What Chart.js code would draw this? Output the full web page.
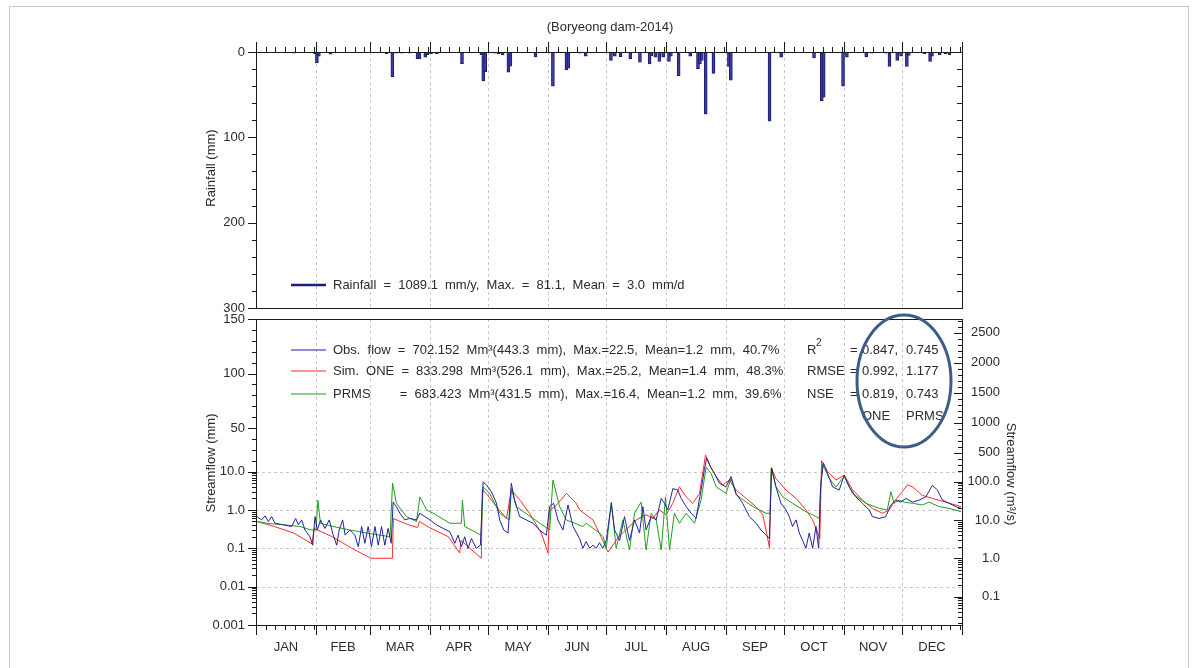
<!DOCTYPE html>
<html>
<head>
<meta charset="utf-8">
<title>Boryeong dam 2014</title>
<script src="https://cdn.jsdelivr.net/npm/chart.js@4.4.1/dist/chart.umd.min.js"></script>
<style>
  html, body { margin: 0; padding: 0; background: #fff; }
  #wrap { position: relative; width: 1197px; height: 668px; overflow: hidden; }
  #frame { position: absolute; left: 9px; top: 6px; width: 1178px; height: 700px; border: 1px solid #c8c8c8; }
  canvas { position: absolute; left: 0; top: 0; }
</style>
</head>
<body>
<div id="wrap">
  <div id="frame"></div>
  <canvas id="flow-chart" width="1197" height="668"></canvas>
  <canvas id="rain-chart" width="1197" height="668"></canvas>
</div>
<script>
// Boryeong dam 2014 : daily rainfall (top) and streamflow (bottom)

const monthNames = ['JAN', 'FEB', 'MAR', 'APR', 'MAY', 'JUN', 'JUL', 'AUG', 'SEP', 'OCT', 'NOV', 'DEC'];
const monthDays = [31, 28, 31, 30, 31, 30, 31, 31, 30, 31, 30, 31];

// Daily rainfall (day of year, mm)
const rainDays = [20, 31, 32, 33, 39, 68, 71, 73, 76, 80, 84, 85, 88, 89, 91, 94, 107, 117, 118, 119,
  124, 126, 128, 131, 132, 145, 154, 161, 162, 168, 171, 174, 184, 186, 189, 194, 199, 204, 205, 207,
  209, 211, 214, 215, 219, 225, 229, 230, 231, 233, 237, 242, 245, 246, 266, 272, 289, 293, 294, 304,
  306, 316, 319, 321, 326, 328, 332, 334, 337, 338, 346, 349, 350, 354, 357, 359];
const rainMm = [1.5, 2, 12.8, 5, 2.5, 2, 29, 1.5, 1.5, 1.5, 7.7, 8, 6, 3, 2, 2, 13.6, 3, 34, 23,
  1.5, 2, 3.5, 23.7, 16.7, 5.8, 40, 21, 19, 1.5, 5, 1, 10, 5, 5.5, 8, 12, 14, 4.5, 6,
  11, 6, 11, 5, 28, 5, 19.5, 14, 10, 73, 25, 1, 17, 33, 81.1, 6, 7, 57, 53, 40,
  6, 5.8, 1.5, 1, 1.5, 17, 10, 5, 17, 4, 2, 11, 5, 3, 2, 3];

// Streamflow in mm/day as [day of year, value]
const obsFlow = [[1, 0.67], [3.4, 0.55], [5.2, 0.7], [6.9, 0.5], [8.6, 0.67], [10.3, 0.45], [14.6, 0.41], [18.9, 0.37],
  [21, 0.6], [22.4, 0.41], [24.1, 0.55], [25.8, 0.3], [28.4, 0.2], [29.8, 0.12], [31, 0.67], [32.2, 0.3],
  [33.9, 0.55], [36.1, 0.33], [38.4, 0.55], [40.1, 0.25], [42.2, 0.12], [43.5, 0.3], [45.3, 0.55], [46.6, 0.22],
  [49, 0.3], [51.6, 0.22], [53.4, 0.11], [55.1, 0.37], [56.8, 0.135], [58.5, 0.37], [60.2, 0.11], [62, 0.37],
  [63.7, 0.12], [65.4, 0.37], [67.1, 0.12], [68.8, 0.33], [70.4, 0.135], [71.4, 1.6], [73.1, 1.22], [74.9, 0.82],
  [77.4, 0.55], [80, 0.6], [83.5, 0.55], [85.2, 0.82], [87.8, 0.67], [90.4, 0.55], [93.8, 0.41], [97.2, 0.33],
  [100.7, 0.27], [103.3, 0.135], [105, 0.22], [106.7, 0.11], [108.4, 0.2], [110.1, 0.1], [111.9, 0.18], [114.4, 0.1],
  [116.5, 0.12], [117.9, 5.4], [119.6, 4.5], [122.2, 3.0], [124.8, 1.5], [126.5, 0.55], [128.6, 0.3], [130.8, 0.25],
  [132.5, 4.95], [134.2, 1.8], [136.8, 0.67], [140.3, 0.55], [143.7, 0.45], [147.1, 0.3], [150.6, 0.22], [152.3, 1.22],
  [154.4, 1.49], [156.6, 0.55], [159.2, 0.3], [161.8, 1.35], [164.4, 0.37], [167.8, 0.18], [169.5, 0.1], [171.2, 0.15],
  [173, 0.1], [174.7, 0.12], [176.4, 0.1], [178.1, 0.14], [179.8, 0.1], [181.6, 0.16], [184.2, 1.49], [185.9, 0.3],
  [188.5, 0.16], [191, 0.67], [193.6, 0.16], [196.2, 0.55], [198.8, 0.25], [200.5, 1.22], [202.2, 0.3], [204.8, 0.67],
  [207.4, 0.55], [210, 2.0], [211.7, 1.49], [213.4, 1.0], [216, 3.6], [218.6, 3.3], [220.3, 2.0], [222.9, 1.22],
  [225.5, 0.82], [228, 0.6], [230.6, 3.3], [232.3, 11.8], [233.5, 22.5], [235.3, 14.9], [237.5, 9.0], [240.1, 4.95],
  [243.5, 4.0], [246.1, 7.4], [248.7, 2.7], [252.1, 1.49], [255.6, 0.67], [259, 0.45], [261.6, 0.3], [264.2, 0.22],
  [265.9, 0.18], [267.1, 13.4], [269.3, 4.0], [271.9, 1.49], [274.5, 1.0], [276.2, 0.67], [277.9, 0.37], [279.7, 0.55],
  [281.4, 0.25], [283.1, 0.16], [284.8, 0.1], [286.5, 0.25], [288.3, 0.1], [290, 0.37], [291.4, 0.1], [292.4, 4.0],
  [293.8, 18], [296, 9.0], [298.6, 4.0], [302, 3.3], [304.6, 8.1], [307.2, 4.0], [310.6, 2.2], [314.1, 1.49],
  [317.5, 1.0], [319.2, 0.67], [322.7, 0.6], [326.1, 0.67], [328.7, 1.35], [331.3, 1.8], [333.9, 1.6], [336.5, 2.0],
  [339.9, 1.6], [343.3, 1.8], [346.8, 2.2], [350.2, 4.4], [352.8, 3.3], [355.4, 1.8], [358.8, 1.49], [362.3, 1.22],
  [365, 1.1]];

const oneFlow = [[1, 0.5], [10, 0.37], [20, 0.25], [29.5, 0.13], [30.5, 0.33], [40, 0.2], [50, 0.1], [60, 0.055],
  [71, 0.055], [71.5, 0.6], [75, 0.5], [80, 0.4], [84, 0.35], [85, 0.5], [90, 0.35], [100, 0.2],
  [105.8, 0.075], [106.5, 0.16], [117, 0.055], [117.5, 3.5], [120, 2.5], [125, 1.2], [130, 0.6], [132.5, 3.3],
  [137, 1.8], [142, 0.8], [148, 0.25], [151.5, 0.075], [152.2, 1.0], [155, 1.2], [161, 2.7], [166, 1.5],
  [167.8, 1.0], [174.7, 0.55], [179.8, 0.16], [182.5, 0.08], [188, 0.2], [197, 0.55], [202.2, 0.75], [205.6, 0.6],
  [209, 1.0], [212.5, 0.75], [216, 1.49], [219.4, 4.0], [222.9, 2.2], [226.3, 1.49], [229.8, 2.7], [232.9, 25.2],
  [235.8, 13.4], [238.4, 7.4], [241.8, 4.5], [245.2, 6.0], [248.7, 3.3], [253.9, 2.0], [259, 1.22], [262.5, 0.75],
  [264.5, 0.25], [266, 0.1], [266.9, 13.4], [269.3, 6.6], [274.5, 3.3], [279.7, 2.0], [284.8, 1.0], [288.3, 0.55],
  [290.9, 0.25], [292, 0.18], [292.9, 20.0], [296, 10.2], [300.3, 6.0], [304.6, 8.1], [309, 3.3], [314.1, 1.8],
  [319.2, 1.1], [324.4, 0.82], [327.9, 1.0], [330.4, 1.6], [333.9, 2.7], [337.3, 4.5], [339.9, 4.0], [345, 2.4],
  [350.2, 2.0], [357.1, 1.6], [365, 1.22]];

const prmsFlow = [[1, 0.5], [6, 0.45], [14.6, 0.41], [23.2, 0.37], [29, 0.3], [31.5, 0.3], [32.5, 1.8], [33.8, 0.45],
  [40.4, 0.37], [49, 0.3], [57.7, 0.25], [69.8, 0.2], [71.1, 5.0], [73.1, 1.5], [78.3, 0.67], [83.5, 0.5],
  [85.2, 2.2], [88.7, 1.0], [92.1, 0.82], [100.7, 0.45], [106.7, 0.45], [107.2, 1.8], [108.4, 0.37], [116.9, 0.22],
  [117.9, 4.0], [121.3, 2.7], [126.5, 0.82], [131.6, 0.55], [132.5, 3.6], [135.1, 1.22], [143.7, 0.6], [152.3, 0.3],
  [154, 6.0], [157.5, 1.22], [160.9, 0.55], [169.5, 0.37], [171.2, 0.45], [178.1, 0.25], [180, 0.2], [181.6, 0.1],
  [184.2, 1.6], [186.7, 0.1], [190.2, 0.55], [193.6, 0.09], [196.2, 0.82], [199.6, 1.6], [202.2, 0.09], [204.8, 0.82],
  [207.4, 0.55], [210, 0.09], [212.2, 2.2], [214.3, 0.09], [216.8, 0.82], [219.4, 0.45], [222.9, 0.82], [227.2, 0.45],
  [230.6, 1.8], [233.2, 14], [235.8, 9.0], [238.4, 4.0], [243.5, 2.7], [246.1, 6.6], [248.7, 2.5], [253.9, 1.6],
  [259, 1.1], [264.2, 0.82], [266.2, 0.82], [266.9, 13.4], [269.3, 4.0], [272.8, 2.2], [277.9, 1.49], [284.8, 0.9],
  [288.3, 0.75], [291.7, 0.6], [292.4, 3.6], [293.4, 16.4], [296.9, 6.6], [300.3, 4.0], [304.6, 7.4], [308.9, 2.7],
  [315.8, 1.49], [322.7, 1.1], [326.9, 1.0], [328.7, 3.0], [330.4, 1.5], [333, 1.8], [335.6, 1.6], [339.9, 1.49],
  [345, 1.35], [348.5, 1.6], [353.7, 1.22], [358.8, 1.1], [365, 0.9]];

// Axis ticks
const rainTicks = [0, 100, 200, 300];
const flowTickValues = [0.001, 0.01, 0.1, 1, 10, 50, 100, 150];
const flowTickLabels = ['0.001', '0.01', '0.1', '1.0', '10.0', '50', '100', '150'];
const cmsTickValues = [0.1, 1, 10, 100, 500, 1000, 1500, 2000, 2500];
const cmsTickLabels = ['0.1', '1.0', '10.0', '100.0', '500', '1000', '1500', '2000', '2500'];
const MM_TO_CMS = 18.2;

// Legend and statistics text
const rainLegend = 'Rainfall = 1089.1 mm/y, Max. = 81.1, Mean = 3.0 mm/d';
const flowNames = ['Obs. flow', 'Sim. ONE', 'PRMS'];
const flowSummary = [
  '= 702.152 Mm\u00b3(443.3 mm), Max.=22.5, Mean=1.2 mm, 40.7%',
  '= 833.298 Mm\u00b3(526.1 mm), Max.=25.2, Mean=1.4 mm, 48.3%',
  '= 683.423 Mm\u00b3(431.5 mm), Max.=16.4, Mean=1.2 mm, 39.6%'
];
const statNames = ['R', 'RMSE', 'NSE'];
const statOne = ['0.847,', '0.992,', '0.819,'];
const statPrms = ['0.745', '1.177', '0.743'];

const FONT = '"Liberation Sans", Arial, sans-serif';
const TEXT = '#2b2b2b';
const AXIS = '#1a1a1a';
const PLOT_LEFT = 256, PLOT_RIGHT = 962;
const RAIN_TOP = 52, RAIN_BOTTOM = 308;
const FLOW_TOP = 319, FLOW_BOTTOM = 625;
const W = 1197, H = 668;

Chart.defaults.font.family = FONT;
Chart.defaults.font.size = 13;
Chart.defaults.color = TEXT;

// month edges and centres on a day-of-year axis (day n spans n-0.5 .. n+0.5)
const monthEdges = [0.5];
monthDays.forEach(n => monthEdges.push(monthEdges[monthEdges.length - 1] + n));
const monthMid = monthDays.map((n, i) => monthEdges[i] + n / 2);
const dayTicks = [];
monthDays.forEach((n, i) => {
    dayTicks.push([monthEdges[i], true]);
    for (let k = 5; k < n; k += 5) dayTicks.push([monthEdges[i] + k, false]);
});
dayTicks.push([monthEdges[12], true]);

// Log below 10 mm, linear above it (room for the legend)
const LIN_K = 1.09 / 38.35;
class HybridScale extends Chart.Scale {
    static id = 'hybrid';
    static defaults = {};
    determineDataLimits() {
        this.min = this.options.min;
        this.max = this.options.max;
    }
    buildTicks() {
        return this.options.tickValues.map(v => ({ value: v }));
    }
    getLabelForValue(v) {
        return String(v);
    }
    toU(v) {
        const mm = v / (this.options.factor || 1);
        return mm <= 10 ? Math.log10(mm) : 1 + (mm - 10) * LIN_K;
    }
    configure() {
        super.configure();
        this._u0 = this.toU(this.min);
        this._u1 = this.toU(this.max);
    }
    getPixelForValue(v) {
        return this.getPixelForDecimal((this.toU(v) - this._u0) / (this._u1 - this._u0));
    }
    getValueForPixel(p) {
        const u = this._u0 + this.getDecimalForPixel(p) * (this._u1 - this._u0);
        const mm = u <= 1 ? Math.pow(10, u) : 10 + (u - 1) / LIN_K;
        return mm * (this.options.factor || 1);
    }
    getPixelForTick(i) {
        return this.getPixelForValue(this.ticks[i].value);
    }
}
Chart.register(HybridScale);

function crisp(v) {
    return Math.round(v) + 0.5;
}

function drawMonthGrid(chart) {
    const { ctx, chartArea: a, scales: { x } } = chart;
    ctx.save();
    ctx.strokeStyle = '#c6c6c6';
    ctx.lineWidth = 1;
    ctx.setLineDash([3, 3]);
    ctx.beginPath();
    monthEdges.slice(1, -1).forEach(d => {
        const px = crisp(x.getPixelForValue(d));
        ctx.moveTo(px, a.top);
        ctx.lineTo(px, a.bottom);
    });
    ctx.stroke();
    ctx.restore();
}

function drawFrame(chart) {
    const { ctx, chartArea: a } = chart;
    ctx.save();
    ctx.strokeStyle = AXIS;
    ctx.lineWidth = 1;
    ctx.strokeRect(crisp(a.left), crisp(a.top), Math.round(a.right - a.left), Math.round(a.bottom - a.top));
    ctx.restore();
}

function drawDayTicks(chart, yEdge, dir) {
    const { ctx, scales: { x } } = chart;
    dayTicks.forEach(([d, major]) => {
        const px = crisp(x.getPixelForValue(d));
        ctx.moveTo(px, yEdge);
        ctx.lineTo(px, yEdge + dir * (major ? 10 : 5));
    });
}

function drawRotated(ctx, text, cx, cy, angle) {
    ctx.save();
    ctx.translate(cx, cy);
    ctx.rotate(angle);
    ctx.textAlign = 'center';
    ctx.textBaseline = 'middle';
    ctx.fillText(text, 0, 0);
    ctx.restore();
}

const rainDecor = {
    id: 'rainDecor',
    beforeDatasetsDraw(chart) {
        drawMonthGrid(chart);
    },
    afterDatasetsDraw(chart) {
        const { ctx, chartArea: a, scales: { y } } = chart;
        drawFrame(chart);
        ctx.save();
        ctx.strokeStyle = AXIS;
        ctx.lineWidth = 1;
        ctx.beginPath();
        drawDayTicks(chart, Math.round(a.top), -1);
        for (let v = 0; v <= 300; v += 20) {
            const py = crisp(y.getPixelForValue(v));
            const major = v % 100 === 0;
            ctx.moveTo(a.left, py);
            ctx.lineTo(a.left - (major ? 8 : 4), py);
            ctx.moveTo(a.right, py);
            ctx.lineTo(a.right - 5, py);
        }
        ctx.stroke();

        // title, axis title and legend
        ctx.fillStyle = TEXT;
        ctx.font = '13px ' + FONT;
        ctx.textAlign = 'center';
        ctx.textBaseline = 'middle';
        ctx.fillText('(Boryeong dam-2014)', (a.left + a.right) / 2 + 1, 27);
        drawRotated(ctx, 'Rainfall (mm)', 211, (a.top + a.bottom) / 2 - 12, -Math.PI / 2);

        const ly = a.bottom - 23;
        ctx.strokeStyle = '#1f1f7a';
        ctx.lineWidth = 2.5;
        ctx.beginPath();
        ctx.moveTo(a.left + 35, ly);
        ctx.lineTo(a.left + 70, ly);
        ctx.stroke();
        ctx.textAlign = 'left';
        ctx.wordSpacing = '3.5px';
        ctx.fillText(rainLegend, a.left + 77, ly);
        ctx.restore();
    }
};

const flowColors = ['#23239a', '#ff2b2b', '#1f9e1f'];

const flowDecor = {
    id: 'flowDecor',
    beforeDatasetsDraw(chart) {
        const { ctx, chartArea: a, scales: { y } } = chart;
        drawMonthGrid(chart);
        ctx.save();
        ctx.strokeStyle = '#c6c6c6';
        ctx.setLineDash([3, 3]);
        ctx.beginPath();
        [0.01, 0.1, 1, 10].forEach(v => {
            const py = crisp(y.getPixelForValue(v));
            ctx.moveTo(a.left, py);
            ctx.lineTo(a.right, py);
        });
        ctx.stroke();
        ctx.restore();
    },
    afterDatasetsDraw(chart) {
        const { ctx, chartArea: a, scales: { y, y2 } } = chart;
        drawFrame(chart);
        ctx.save();
        ctx.strokeStyle = AXIS;
        ctx.lineWidth = 1;
        ctx.beginPath();
        drawDayTicks(chart, Math.round(a.bottom), 1);

        // left axis, mm
        const leftMinor = [];
        for (let e = -3; e < 1; e++) {
            for (let k = 2; k <= 9; k++) leftMinor.push(k * Math.pow(10, e));
        }
        for (let v = 20; v < 150; v += 10) if (v % 50) leftMinor.push(v);
        flowTickValues.forEach(v => {
            const py = crisp(y.getPixelForValue(v));
            ctx.moveTo(a.left, py);
            ctx.lineTo(a.left - 8, py);
        });
        leftMinor.forEach(v => {
            const py = crisp(y.getPixelForValue(v));
            ctx.moveTo(a.left, py);
            ctx.lineTo(a.left - 4, py);
        });

        // right axis, m3/s
        const rightMinor = [];
        for (let e = -2; e < 3; e++) {
            for (let k = 2; k <= 9; k++) {
                const v = k * Math.pow(10, e);
                if (v > y2.min && v < 10 * MM_TO_CMS) rightMinor.push(v);
            }
        }
        for (let v = 200; v < y2.max; v += 100) if (v % 500) rightMinor.push(v);
        cmsTickValues.forEach(v => {
            const py = crisp(y2.getPixelForValue(v));
            ctx.moveTo(a.right, py);
            ctx.lineTo(a.right - 8, py);
        });
        rightMinor.forEach(v => {
            const py = crisp(y2.getPixelForValue(v));
            ctx.moveTo(a.right, py);
            ctx.lineTo(a.right - 4, py);
        });
        ctx.stroke();

        // right tick labels, right aligned
        ctx.fillStyle = TEXT;
        ctx.font = '13px ' + FONT;
        ctx.textAlign = 'right';
        ctx.textBaseline = 'middle';
        cmsTickValues.forEach((v, i) => {
            ctx.fillText(cmsTickLabels[i], a.right + 38, y2.getPixelForValue(v));
        });

        // axis titles
        drawRotated(ctx, 'Streamflow (mm)', 211, a.top + 144, -Math.PI / 2);
        drawRotated(ctx, 'Streamflow (m\u00b3/s)', 1011, a.top + 155, Math.PI / 2);

        // legend
        ctx.textAlign = 'left';
        ctx.wordSpacing = '3.5px';
        const eqX = a.left + 77 + ctx.measureText(flowNames[0] + ' ').width;
        [31, 52, 75].forEach((dy, i) => {
            const ly = a.top + dy;
            ctx.strokeStyle = flowColors[i];
            ctx.lineWidth = 1.2;
            ctx.beginPath();
            ctx.moveTo(a.left + 35, ly);
            ctx.lineTo(a.left + 70, ly);
            ctx.stroke();
            if (i === 2) {
                ctx.fillText(flowNames[i], a.left + 77, ly);
                ctx.fillText(flowSummary[i], eqX + 2, ly);
            } else {
                ctx.fillText(flowNames[i] + ' ' + flowSummary[i], a.left + 77, ly);
            }

            // goodness of fit
            ctx.fillText(statNames[i], a.right - 155, ly);
            ctx.fillText('=', a.right - 112, ly);
            ctx.fillText(statOne[i], a.right - 100, ly);
            ctx.fillText(statPrms[i], a.right - 56, ly);
        });
        ctx.font = '10px ' + FONT;
        ctx.fillText('2', a.right - 146, a.top + 24);
        ctx.font = '13px ' + FONT;
        ctx.fillText('ONE', a.right - 100, a.top + 97);
        ctx.fillText('PRMS', a.right - 56, a.top + 97);

        ctx.strokeStyle = '#3d5d88';
        ctx.lineWidth = 3;
        ctx.beginPath();
        ctx.ellipse(a.right - 58, a.top + 62, 47, 66, 0, 0, Math.PI * 2);
        ctx.stroke();
        ctx.restore();
    }
};

new Chart(document.getElementById('rain-chart'), {
    type: 'bar',
    data: {
        datasets: [{
            label: 'Rainfall',
            data: rainDays.map((d, i) => ({ x: d, y: rainMm[i] })),
            backgroundColor: '#3b3ba3',
            borderColor: '#1c1c6e',
            borderWidth: 1,
            barThickness: 3
        }]
    },
    options: {
        responsive: false,
        animation: false,
        events: [],
        layout: { padding: { top: RAIN_TOP, bottom: H - RAIN_BOTTOM, left: 0, right: W - PLOT_RIGHT } },
        plugins: { legend: { display: false }, tooltip: { enabled: false } },
        scales: {
            x: { type: 'linear', min: 0.5, max: 365.5, offset: false, display: false },
            y: {
                min: 0,
                max: 300,
                reverse: true,
                afterBuildTicks: s => { s.ticks = rainTicks.map(v => ({ value: v })); },
                afterFit: s => { s.width = PLOT_LEFT; },
                ticks: { padding: 11 },
                grid: { display: false, drawTicks: false },
                border: { display: false }
            }
        }
    },
    plugins: [rainDecor]
});

const flowSets = [obsFlow, prmsFlow, oneFlow];
const flowIdx = [0, 2, 1];

new Chart(document.getElementById('flow-chart'), {
    type: 'line',
    data: {
        datasets: flowSets.map((s, k) => ({
            label: flowNames[flowIdx[k]],
            data: s.map(p => ({ x: p[0], y: p[1] })),
            borderColor: flowColors[flowIdx[k]],
            borderWidth: 1,
            pointRadius: 0,
            tension: 0,
            yAxisID: 'y'
        }))
    },
    options: {
        responsive: false,
        animation: false,
        events: [],
        layout: { padding: { top: FLOW_TOP, bottom: 0, left: 0, right: 0 } },
        plugins: { legend: { display: false }, tooltip: { enabled: false } },
        scales: {
            x: {
                type: 'linear',
                min: 0.5,
                max: 365.5,
                offset: false,
                afterBuildTicks: s => { s.ticks = monthMid.map(v => ({ value: v })); },
                afterFit: s => { s.height = H - FLOW_BOTTOM; },
                ticks: { autoSkip: false, maxRotation: 0, padding: 15, callback: (v, i) => monthNames[i] },
                grid: { display: false, drawTicks: false },
                border: { display: false }
            },
            y: {
                type: 'hybrid',
                position: 'left',
                min: 0.001,
                max: 150,
                tickValues: flowTickValues,
                afterFit: s => { s.width = PLOT_LEFT; },
                ticks: { autoSkip: false, padding: 11, callback: (v, i) => flowTickLabels[i] },
                grid: { display: false, drawTicks: false },
                border: { display: false }
            },
            y2: {
                type: 'hybrid',
                position: 'right',
                min: 0.001 * MM_TO_CMS,
                max: 150 * MM_TO_CMS,
                factor: MM_TO_CMS,
                tickValues: cmsTickValues,
                afterFit: s => { s.width = W - PLOT_RIGHT; },
                ticks: { display: false },
                grid: { display: false, drawTicks: false },
                border: { display: false }
            }
        }
    },
    plugins: [flowDecor]
});
</script>
</body>
</html>
